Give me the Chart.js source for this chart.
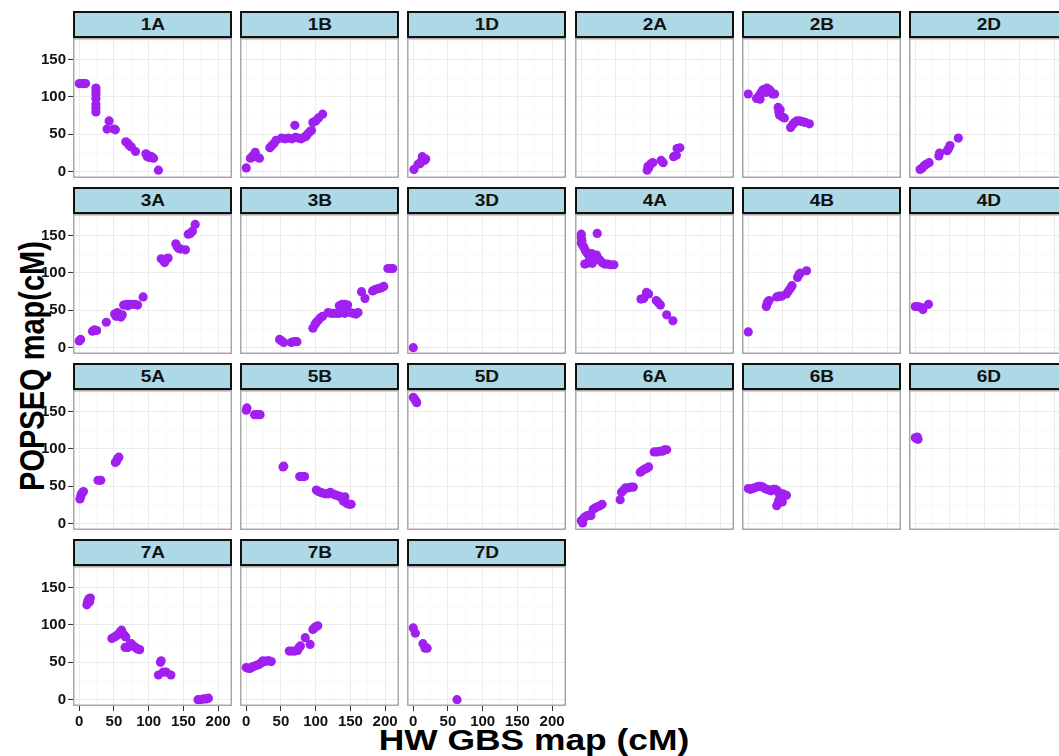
<!DOCTYPE html>
<html>
<head>
<meta charset="utf-8">
<script src="https://cdn.jsdelivr.net/npm/chart.js@4.4.0/dist/chart.umd.min.js"></script>
<style>
    body {
        margin: 0;
        width: 1059px;
        height: 756px;
        overflow: hidden;
        background: #fff;
        position: relative;
        font-family: 'Liberation Sans', Arial, sans-serif;
    }
    .strip {
        position: absolute;
        box-sizing: border-box;
        width: 159px;
        height: 27px;
        background: #ADD8E6;
        border: 2px solid #111;
        font-weight: bold;
        font-size: 17px;
        line-height: 23px;
        text-align: center;
        color: #111;
    }
    .strip span {
        display: inline-block;
        transform: scaleX(1.12);
    }
    canvas {
        position: absolute;
    }
    .title {
        position: absolute;
        font-weight: bold;
        font-size: 29px;
        white-space: nowrap;
        color: #000;
    }
</style>
</head>
<body>
<div class="title" style="left:534px;top:740px;transform:translate(-50%,-50%) scaleX(1.22)">HW GBS map (cM)</div>
<div class="title" style="left:33px;top:366px;transform:translate(-50%,-50%) scaleX(1.2) rotate(-90deg)">POPSEQ map(cM)</div>
<script>
const chromosomes = ['1A', '1B', '1D', '2A', '2B', '2D',
    '3A', '3B', '3D', '4A', '4B', '4D',
    '5A', '5B', '5D', '6A', '6B', '6D',
    '7A', '7B', '7D'];

const xBreaks = [0, 50, 100, 150, 200];
const yBreaks = [0, 50, 100, 150];

// HW GBS position (x) and POPSEQ position (y) per chromosome, cM
const gbs_1A = [0, 3, 6, 9, 24, 24, 24, 24, 24, 24, 24, 43, 40, 50, 52, 67, 70, 72, 75, 81, 96, 98, 99, 101, 104, 107, 114];
const popseq_1A = [118, 118, 118, 118, 112, 108, 104, 98, 90, 85, 80, 68, 57, 57, 56, 40, 38, 35, 33, 27, 24, 20, 22, 19, 20, 18, 2];
const gbs_1B = [0, 6, 10, 13, 12, 19, 34, 37, 40, 43, 51, 56, 61, 66, 71, 75, 79, 83, 86, 70, 88, 91, 94, 96, 100, 104, 110];
const popseq_1B = [5, 18, 22, 26, 20, 18, 32, 35, 38, 42, 45, 44, 45, 44, 46, 45, 44, 46, 47, 62, 50, 53, 55, 66, 68, 72, 77];
const gbs_1D = [1, 7, 10, 11, 13, 16, 18];
const popseq_1D = [3, 10, 11, 13, 20, 15, 17];
const gbs_2A = [95, 96, 97, 99, 101, 103, 115, 118, 133, 137, 138, 142];
const popseq_2A = [2, 7, 5, 9, 11, 12, 15, 12, 20, 22, 31, 32];
const gbs_2B = [0, 12, 15, 17, 18, 20, 22, 25, 27, 30, 32, 35, 38, 43, 44, 45, 46, 48, 52, 61, 64, 67, 70, 74, 78, 82, 88];
const popseq_2B = [104, 98, 101, 97, 105, 108, 110, 106, 112, 110, 108, 104, 104, 86, 80, 76, 83, 74, 72, 59, 63, 66, 68, 68, 67, 66, 64];
const gbs_2D = [7, 10, 13, 16, 20, 34, 35, 46, 48, 50, 62];
const popseq_2D = [3, 5, 8, 10, 12, 21, 25, 28, 31, 35, 45];
const gbs_3A = [0, 2, 19, 22, 25, 39, 51, 53, 54, 55, 57, 60, 62, 64, 68, 70, 72, 76, 80, 84, 92, 118, 121, 123, 126, 128, 139, 141, 143, 146, 153, 157, 160, 163, 167];
const popseq_3A = [9, 11, 22, 24, 23, 34, 45, 42, 46, 47, 44, 41, 44, 57, 58, 56, 58, 58, 58, 57, 68, 119, 117, 114, 119, 120, 139, 135, 133, 132, 131, 152, 153, 156, 165];
const gbs_3B = [48, 51, 54, 65, 69, 73, 96, 99, 101, 104, 107, 110, 118, 122, 126, 130, 134, 138, 142, 134, 138, 142, 146, 150, 154, 158, 161, 166, 171, 182, 186, 190, 194, 198, 204, 208, 211];
const popseq_3B = [11, 9, 7, 7, 8, 8, 26, 31, 34, 37, 40, 42, 47, 46, 46, 46, 46, 47, 46, 56, 58, 58, 57, 47, 46, 45, 47, 75, 66, 76, 78, 79, 80, 82, 106, 106, 106];
const gbs_3D = [0];
const popseq_3D = [0];
const gbs_4A = [0, 0, 1, 0, 2, 23, 4, 6, 8, 10, 12, 14, 16, 5, 9, 11, 13, 15, 22, 24, 27, 30, 34, 38, 42, 47, 86, 90, 94, 97, 108, 111, 114, 123, 132];
const popseq_4A = [152, 148, 144, 140, 137, 153, 134, 130, 127, 125, 122, 118, 113, 112, 113, 115, 120, 126, 124, 120, 117, 114, 112, 112, 111, 111, 65, 66, 74, 72, 63, 60, 57, 44, 36];
const gbs_4B = [0, 26, 27, 28, 30, 41, 45, 48, 55, 58, 61, 63, 71, 73, 75, 84];
const popseq_4B = [21, 55, 58, 61, 63, 68, 69, 69, 72, 76, 80, 83, 94, 98, 100, 103];
const gbs_4D = [0, 4, 8, 11, 19];
const popseq_4D = [55, 55, 54, 51, 58];
const gbs_5A = [1, 2, 3, 4, 6, 27, 31, 52, 54, 55, 57];
const popseq_5A = [33, 36, 39, 41, 43, 58, 58, 82, 84, 87, 89];
const gbs_5B = [0, 1, 12, 16, 20, 53, 54, 77, 81, 84, 101, 104, 107, 110, 114, 118, 121, 124, 127, 130, 133, 136, 138, 140, 142, 145, 148, 151];
const popseq_5B = [152, 155, 146, 146, 146, 76, 77, 63, 63, 63, 45, 43, 42, 41, 40, 40, 42, 40, 39, 38, 37, 36, 34, 30, 36, 27, 26, 26];
const gbs_5D = [0, 2, 4, 5];
const popseq_5D = [169, 167, 164, 162];
const gbs_6A = [0, 2, 4, 7, 10, 14, 17, 20, 24, 27, 30, 56, 58, 61, 64, 68, 72, 75, 85, 88, 91, 94, 97, 105, 109, 113, 117, 120, 123];
const popseq_6A = [4, 1, 8, 10, 11, 11, 19, 21, 23, 24, 26, 32, 42, 45, 48, 48, 49, 49, 69, 71, 73, 74, 76, 96, 96, 97, 97, 99, 99];
const gbs_6B = [0, 3, 6, 9, 12, 15, 18, 21, 24, 27, 30, 33, 36, 39, 42, 44, 46, 48, 50, 51, 44, 43, 49, 41, 55];
const popseq_6B = [47, 46, 47, 48, 49, 50, 50, 49, 47, 46, 45, 44, 46, 46, 44, 41, 38, 35, 40, 38, 31, 27, 29, 24, 38];
const gbs_6D = [0, 2, 4, 3];
const popseq_6D = [115, 114, 113, 116];
const gbs_7A = [11, 12, 13, 14, 16, 15, 47, 51, 54, 57, 59, 61, 63, 65, 67, 66, 70, 73, 75, 78, 81, 84, 87, 117, 118, 114, 121, 125, 132, 171, 175, 179, 183, 186];
const popseq_7A = [127, 130, 133, 135, 136, 131, 82, 84, 86, 88, 91, 93, 88, 86, 84, 70, 70, 74, 75, 72, 70, 68, 67, 50, 52, 33, 37, 37, 33, 0, 0, 1, 1, 2];
const gbs_7B = [0, 3, 6, 9, 12, 15, 18, 20, 22, 24, 27, 30, 33, 36, 62, 66, 70, 74, 76, 78, 85, 92, 96, 98, 101, 103];
const popseq_7B = [43, 42, 42, 44, 45, 46, 47, 48, 50, 52, 51, 52, 52, 51, 65, 65, 65, 66, 70, 72, 83, 74, 94, 96, 98, 99];
const gbs_7D = [0, 3, 14, 17, 20, 63];
const popseq_7D = [96, 89, 75, 69, 69, 0];

const panels = {
    '1A': [gbs_1A, popseq_1A], '1B': [gbs_1B, popseq_1B], '1D': [gbs_1D, popseq_1D],
    '2A': [gbs_2A, popseq_2A], '2B': [gbs_2B, popseq_2B], '2D': [gbs_2D, popseq_2D],
    '3A': [gbs_3A, popseq_3A], '3B': [gbs_3B, popseq_3B], '3D': [gbs_3D, popseq_3D],
    '4A': [gbs_4A, popseq_4A], '4B': [gbs_4B, popseq_4B], '4D': [gbs_4D, popseq_4D],
    '5A': [gbs_5A, popseq_5A], '5B': [gbs_5B, popseq_5B], '5D': [gbs_5D, popseq_5D],
    '6A': [gbs_6A, popseq_6A], '6B': [gbs_6B, popseq_6B], '6D': [gbs_6D, popseq_6D],
    '7A': [gbs_7A, popseq_7A], '7B': [gbs_7B, popseq_7B], '7D': [gbs_7D, popseq_7D],
};

const colLeft = [73, 240, 407, 575, 742, 909];
const rowTop = [11, 187, 363, 539];
const panelW = 159, panelH = 140, stripH = 27;
const purple = '#A020F0';
const xGrid = [0, 25, 50, 75, 100, 125, 150, 175, 200];
const yGrid = [0, 25, 50, 75, 100, 125, 150, 175];
const tickFont = {family: "'Liberation Sans', Arial, sans-serif", size: 15, weight: 'bold'};

const panelBorder = {
    id: 'panelBorder',
    afterDraw(chart) {
        const {ctx, chartArea: a} = chart;
        ctx.save();
        ctx.strokeStyle = '#a8a8a8';
        ctx.lineWidth = 1.5;
        ctx.strokeRect(a.left + 0.75, a.top + 0.75, a.width - 1.5, a.height - 1.5);
        ctx.restore();
    }
};

function gridFor(breaks, show) {
    const major = c => c.tick && breaks.includes(c.tick.value);
    return {
        color: c => major(c) ? '#ebebeb' : '#f5f5f5',
        lineWidth: c => major(c) ? 1 : 0.6,
        drawTicks: show,
        tickLength: 5,
        tickWidth: 1,
        tickColor: c => major(c) ? '#333' : 'rgba(0,0,0,0)',
    };
}

// no label padding, so every panel keeps the same plotting area
function noPadding(s) {
    s.paddingTop = 0;
    s.paddingBottom = 0;
    s.paddingLeft = 0;
    s.paddingRight = 0;
}

chromosomes.forEach((name, i) => {
    const col = i % 6, row = Math.floor(i / 6);
    const left = colLeft[col], top = rowTop[row];

    const strip = document.createElement('div');
    strip.className = 'strip';
    strip.style.left = left + 'px';
    strip.style.top = top + 'px';
    const label = document.createElement('span');
    label.textContent = name;
    strip.appendChild(label);
    document.body.appendChild(strip);

    const showY = col === 0;
    const showX = row === 3;
    const axisW = showY ? left : 0;
    const axisH = showX ? 32 : 0;

    const canvas = document.createElement('canvas');
    canvas.width = panelW + axisW;
    canvas.height = panelH + axisH;
    canvas.style.left = (showY ? 0 : left) + 'px';
    canvas.style.top = (top + stripH) + 'px';
    document.body.appendChild(canvas);

    const [xs, ys] = panels[name];

    new Chart(canvas, {
        type: 'scatter',
        data: {
            datasets: [{
                data: xs.map((x, k) => ({x: x, y: ys[k]})),
                pointRadius: 4.6,
                pointBackgroundColor: purple,
                pointBorderWidth: 0,
            }]
        },
        options: {
            responsive: false,
            animation: false,
            events: [],
            layout: {padding: 0, autoPadding: false},
            plugins: {legend: {display: false}, tooltip: {enabled: false}},
            scales: {
                x: {
                    type: 'linear',
                    min: -9,
                    max: 220,
                    afterFit: s => { s.height = axisH; noPadding(s); },
                    afterBuildTicks: s => { s.ticks = xGrid.map(v => ({value: v})); },
                    grid: gridFor(xBreaks, showX),
                    border: {display: false},
                    ticks: {
                        display: showX,
                        autoSkip: false,
                        maxRotation: 0,
                        padding: 2,
                        color: '#111',
                        font: tickFont,
                        callback: v => xBreaks.includes(v) ? v : ''
                    }
                },
                y: {
                    type: 'linear',
                    min: -8.5,
                    max: 179,
                    afterFit: s => { s.width = axisW; noPadding(s); },
                    afterBuildTicks: s => { s.ticks = yGrid.map(v => ({value: v})); },
                    grid: gridFor(yBreaks, showY),
                    border: {display: false},
                    ticks: {
                        display: showY,
                        autoSkip: false,
                        padding: 2,
                        color: '#111',
                        font: tickFont,
                        callback: v => yBreaks.includes(v) ? v : ''
                    }
                }
            }
        },
        plugins: [panelBorder]
    });
});
</script>
</body>
</html>
